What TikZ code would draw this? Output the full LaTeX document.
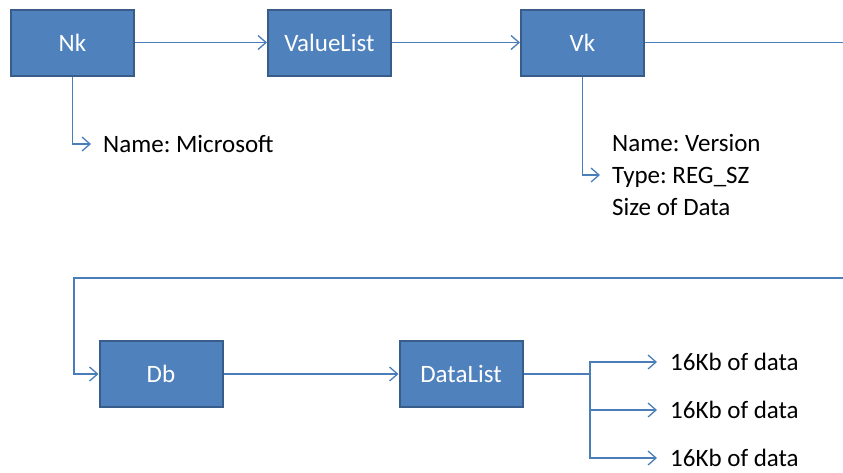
\documentclass[tikz,border=0pt]{standalone}
\usepackage{fontspec}
\setmainfont{Carlito}
\usetikzlibrary{arrows.meta}
\definecolor{boxfill}{HTML}{4F81BD}
\definecolor{boxline}{HTML}{385D8A}
\definecolor{conn}{HTML}{4A7EBB}
\frenchspacing
\begin{document}
\begin{tikzpicture}[x=1pt,y=-1pt,
  blockbox/.style={draw=boxline,fill=boxfill,line width=2pt,minimum width=123pt,minimum height=66pt,inner sep=0pt,text=white,font=\fontsize{25}{30}\selectfont},
  lbl/.style={anchor=west,inner sep=0pt,text=black,font=\fontsize{25}{32}\selectfont,align=left},
  link/.style={draw=conn,line width=1.3pt},
  arr/.style={link,-{Straight Barb[length=8pt,width=14pt,line width=1.3pt]}}]
\useasboundingbox (0,0) rectangle (843,472);
\node[blockbox] (nk) at (72.5,42.5) {Nk};
\node[blockbox] (vl) at (329.5,42.5) {ValueList};
\node[blockbox] (vk) at (582.5,42.5) {Vk};
\node[blockbox] (db) at (161,374) {Db};
\node[blockbox] (dl) at (461,374) {DataList};
\node[lbl] (nm) at (103,144) {Name: Microsoft};
\node[lbl,anchor=west] (vinfo) at (612,175) {Name: Version\\Type: REG\_SZ\\Size of Data};
\node[lbl] (d1) at (670,362) {16Kb of data};
\node[lbl] (d2) at (670,410) {16Kb of data};
\node[lbl] (d3) at (670,458) {16Kb of data};
\coordinate (re) at (843,42.5);
\coordinate (rl) at (843,278);
\coordinate (br) at (590,374);
\draw[arr] (nk.east) -- (vl.west);
\draw[arr] (vl.east) -- (vk.west);
\draw[link] (vk.east) -- (re);
\draw[arr] (nk.south) |- ([xshift=-12pt]nm.west);
\draw[arr] (vk.south) |- ([xshift=-12pt]vinfo.west);
\draw[arr] (rl) -- (74,278) |- (db.west);
\draw[arr] (db.east) -- (dl.west);
\draw[link] (dl.east) -- (br);
\draw[arr] (br) |- ([xshift=-13pt]d1.west);
\draw[arr] (br) |- ([xshift=-13pt]d2.west);
\draw[arr] (br) |- ([xshift=-13pt]d3.west);
\end{tikzpicture}
\end{document}
